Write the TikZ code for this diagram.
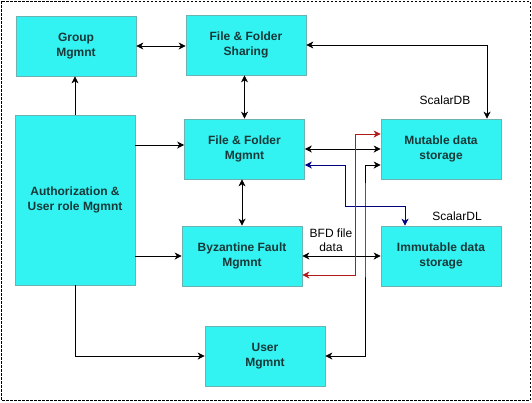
\documentclass[tikz,border=0pt]{standalone}
\usepackage{fontspec}
\setmainfont{Liberation Sans}
\usetikzlibrary{arrows.meta,calc}
\definecolor{BoxClr}{rgb}{0.2,0.95,0.95}
\definecolor{EdgeClr}{rgb}{0.42,0.7,0.7}
\definecolor{TextClr}{rgb}{0.1,0.22,0.22}
\definecolor{NavyClr}{rgb}{0,0,0.5}
\definecolor{RedClr}{rgb}{0.7,0.1,0.1}

\begin{document}
\begin{tikzpicture}[x=1pt,y=-1pt,>={Stealth[length=7pt,width=7pt,inset=2pt]},
  box/.style={draw=EdgeClr,fill=BoxClr,line width=0.6pt,minimum width=120pt,minimum height=60pt,
    align=center,text=TextClr,font=\fontsize{12}{15}\selectfont\bfseries},
  link/.style={line width=0.8pt,<->},
  feed/.style={line width=0.8pt,->},
  tag/.style={align=center,font=\fontsize{12}{14}\selectfont}]
\useasboundingbox (0,0) rectangle (532,402);
\draw[line width=0.7pt,dash pattern=on 2.5pt off 1.5pt] (1,1) rectangle (530,400);

\node[box] (group) at (76,46) {Group\\Mgmnt};
\node[box] (share) at (246,45) {File \& Folder\\Sharing};
\node[box,minimum height=170pt] (auth) at (75,200) {Authorization \&\\User role Mgmnt};
\node[box] (ffm) at (244.5,149) {File \& Folder\\Mgmnt};
\node[box] (mut) at (441,149) {Mutable data\\storage};
\node[box] (bfm) at (242,256) {Byzantine Fault\\Mgmnt};
\node[box] (imm) at (441,256) {Immutable data\\storage};
\node[box] (user) at (265,356) {User\\Mgmnt};

\node[tag] (scdb) at (445,100) {ScalarDB};
\node[tag] (scdl) at (457,216) {ScalarDL};
\node[tag,font=\fontsize{12}{14.5}\selectfont] (bfd) at (331,240) {BFD file\\data};

\coordinate (navbend) at (345,206);
\coordinate (redbend) at (355,134);
\coordinate (blkbend) at (365,200);

\draw[link] (group.east) -- (group.east -| share.west);
\draw[link] (share.south -| ffm.north) -- (ffm.north);
\draw[link] (bfm.north |- ffm.south) -- (bfm.north);
\draw[feed] (auth.north) -- (auth.north |- group.south);
\draw[feed] ([yshift=4pt]ffm.west -| auth.east) -- ([yshift=4pt]ffm.west);
\draw[feed] (auth.east |- bfm.west) -- (bfm.west);
\draw[feed] (auth.south) |- (user.west);
\draw[link] (share.east) -| ([xshift=46pt]mut.north);
\draw[link] (ffm.east) -- (mut.west);
\draw[link] (bfm.east) -- (imm.west);
\draw[link,NavyClr] ([yshift=-16pt]ffm.east) -| (navbend) -| ([xshift=-36pt]imm.north);
\draw[link,RedClr] ([yshift=-19pt]bfm.east) -| (redbend) -- (redbend -| mut.west);
\draw[link] ([yshift=-16pt]mut.west) -| (blkbend) |- (user.east);

\end{tikzpicture}
\end{document}
